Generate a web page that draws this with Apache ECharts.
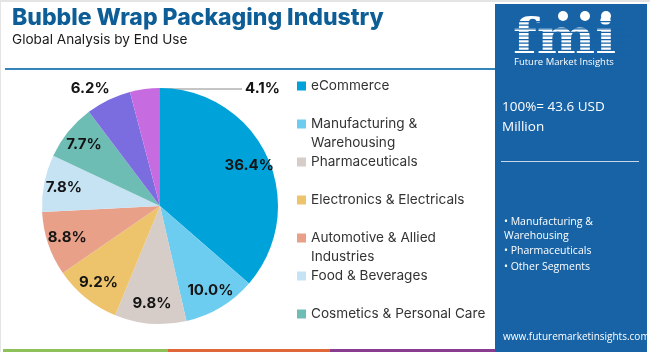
<!DOCTYPE html>
<html>
<head>
<meta charset="utf-8">
<script src="https://cdn.jsdelivr.net/npm/echarts@6/dist/echarts.min.js"></script>
<style>
  html, body { margin: 0; padding: 0; background: #fff; }
  #main { width: 650px; height: 352px; }
</style>
</head>
<body>
<div id="main"></div>
<script>
// data
const categories = ['eCommerce', 'Manufacturing & Warehousing', 'Pharmaceuticals', 'Electronics & Electricals',
  'Automotive & Allied Industries', 'Food & Beverages', 'Cosmetics & Personal Care', 'Other Segment A', 'Other Segment B'];
const shares = [36.4, 10.0, 9.8, 9.2, 8.8, 7.8, 7.7, 6.2, 4.1];
const colors = ['#00a2da', '#6ccdf0', '#d6ccc8', '#edc46b', '#e9a089', '#c6e3f3', '#6ebdb4', '#7b6de0', '#c76ce0'];
// legend shows only the first seven, two of them wrap
const legendLines = {
  'Manufacturing & Warehousing': ['Manufacturing &', 'Warehousing'],
  'Automotive & Allied Industries': ['Automotive & Allied', 'Industries']
};
const legendShown = 7;
const bullets = ['• Manufacturing &', 'Warehousing', '• Pharmaceuticals', '• Other Segments'];

const FONT = 'Inter, "Open Sans", sans-serif';
const SIDE_FONT = '"Open Sans", sans-serif';
const PANEL = '#1763a6';
const CENTER = [160, 206];
const R = 118;

const chart = echarts.init(document.getElementById('main'));

const legends = categories.slice(0, legendShown).map(function (name, i) {
  const lines = legendLines[name] || [name];
  const cy = 86 + i * 38;
  return {
    data: [name],
    left: 297,
    top: lines.length > 1 ? cy - 28.5 : cy - 9.5,
    padding: 0,
    orient: 'vertical',
    icon: 'rect',
    itemWidth: 9,
    itemHeight: 9,
    selectedMode: false,
    formatter: function () { return lines.length > 1 ? '\n' + lines.join('\n') : lines[0]; },
    textStyle: { fontFamily: FONT, fontSize: 13.6, lineHeight: 19, color: '#333' }
  };
});

const pieData = categories.map(function (name, i) {
  return { name: name, value: shares[i], itemStyle: { color: colors[i] } };
});

// transparent ring only to place the labels further out
const labelData = categories.map(function (name, i) {
  const d = { name: name, value: shares[i] };
  if (i === 7) {
    d.label = { position: 'outside', distanceToLabelLine: -7 };
    d.labelLine = { show: false, length: 13, length2: 0 };
  }
  if (i === 8) {
    d.label = { position: 'outside' };
    d.labelLine = { show: true, length: 10, length2: 10, lineStyle: { color: '#8a8a8a', width: 1 } };
  }
  return d;
});

const graphics = [
  { type: 'rect', shape: { x: 0, y: 0, width: 650, height: 2 }, style: { fill: '#e4e4e4' } },
  { type: 'rect', shape: { x: 0, y: 0, width: 1, height: 352 }, style: { fill: '#e4e4e4' } },
  { type: 'rect', shape: { x: 5, y: 68, width: 490, height: 2 }, style: { fill: '#3584ba' } },
  { type: 'rect', shape: { x: 3, y: 349, width: 165, height: 3 }, style: { fill: '#8fc15b' } },
  { type: 'rect', shape: { x: 168, y: 349, width: 162, height: 3 }, style: { fill: '#df673a' } },
  { type: 'rect', shape: { x: 330, y: 349, width: 165, height: 3 }, style: { fill: '#8a3c8e' } },
  { type: 'rect', shape: { x: 495, y: 4, width: 152, height: 348 }, style: { fill: PANEL } }
];
// logo letters, then stripes across them, then the small globes
graphics.push({ type: 'text', x: 513, y: 41, scaleX: 1.15, style: { text: 'fmi', fill: '#fff', font: 'bold 48px "DejaVu Serif"', verticalAlign: 'middle' } });
for (let y = 21; y < 56; y += 3.6) {
  graphics.push({ type: 'rect', shape: { x: 510, y: y, width: 120, height: 1.2 }, style: { fill: PANEL } });
}
graphics.push(
  { type: 'circle', shape: { cx: 563, cy: 16, r: 5 }, style: { fill: '#fff' } },
  { type: 'circle', shape: { cx: 585, cy: 16, r: 5 }, style: { fill: '#fff' } },
  { type: 'circle', shape: { cx: 606, cy: 16, r: 5 }, style: { fill: '#fff' } },
  { type: 'text', x: 514, y: 62, style: { text: 'Future Market Insights', fill: '#fff', font: '9.5px ' + SIDE_FONT, verticalAlign: 'middle' } },
  { type: 'text', x: 502, y: 107, style: { text: '100%= 43.6 USD', fill: '#fff', font: '13.5px ' + SIDE_FONT, verticalAlign: 'middle' } },
  { type: 'text', x: 502, y: 127, style: { text: 'Million', fill: '#fff', font: '13.5px ' + SIDE_FONT, verticalAlign: 'middle' } },
  { type: 'rect', shape: { x: 501, y: 161, width: 138, height: 1 }, style: { fill: 'rgba(255,255,255,0.75)' } },
  { type: 'text', x: 503, y: 337, style: { text: 'www.futuremarketinsights.com', fill: '#fff', font: '10px ' + SIDE_FONT, verticalAlign: 'middle' } }
);
bullets.forEach(function (t, i) {
  const ys = [222, 236, 251, 267];
  graphics.push({ type: 'text', x: 504, y: ys[i], style: { text: t, fill: '#fff', font: '10.5px ' + SIDE_FONT, verticalAlign: 'middle' } });
});

chart.setOption({
  animation: false,
  title: {
    text: 'Bubble Wrap Packaging Industry',
    subtext: 'Global Analysis by End Use',
    left: 12,
    top: 5,
    padding: 0,
    itemGap: 1,
    textStyle: { fontFamily: FONT, fontSize: 23, fontWeight: 800, color: '#0d5e96', lineHeight: 26 },
    subtextStyle: { fontFamily: FONT, fontSize: 13.6, color: '#1a1a1a', lineHeight: 16 }
  },
  legend: legends,
  graphic: graphics,
  series: [
    {
      type: 'pie',
      center: CENTER,
      radius: [0, R],
      startAngle: 90,
      clockwise: true,
      silent: true,
      data: pieData,
      label: { show: false },
      labelLine: { show: false },
      itemStyle: { borderWidth: 0 }
    },
    {
      type: 'pie',
      center: CENTER,
      radius: [72, R],
      startAngle: 90,
      clockwise: true,
      silent: true,
      avoidLabelOverlap: false,
      data: labelData,
      itemStyle: { color: 'transparent', borderWidth: 0 },
      label: {
        show: true,
        position: 'inside',
        formatter: function (p) { return p.value.toFixed(1) + '%'; },
        fontFamily: FONT,
        fontSize: 15,
        fontWeight: 'bold',
        color: '#141414'
      },
      labelLine: { show: false },
      labelLayout: function (p) {
        if (p.dataIndex !== 8) return {};
        const x0 = p.rect.x + p.rect.width;
        const y0 = p.rect.y + 1;
        return {
          x: x0 + 85,
          y: y0 - 1,
          align: 'left',
          verticalAlign: 'middle',
          labelLinePoints: [[x0, y0], [x0 + 40, y0], [x0 + 82, y0]]
        };
      }
    }
  ]
});
</script>
</body>
</html>
